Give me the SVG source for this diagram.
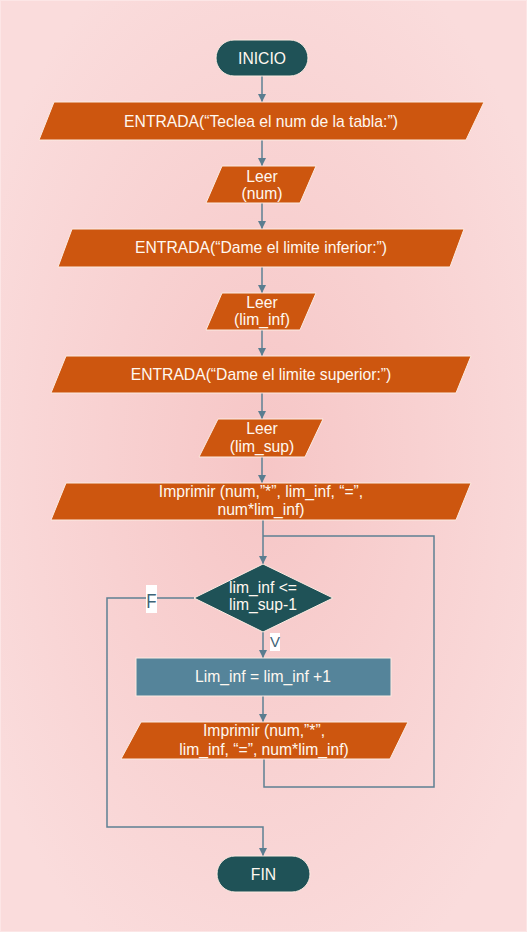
<svg xmlns="http://www.w3.org/2000/svg" width="527" height="932" viewBox="0 0 527 932">
<defs>
<radialGradient id="bg" cx="0.5" cy="0.5" r="0.6">
<stop offset="0" stop-color="#F6C6C6"/>
<stop offset="1" stop-color="#FADCDC"/>
</radialGradient>
<marker id="arr" viewBox="0 0 10 10" refX="10" refY="5" markerWidth="8" markerHeight="8" markerUnits="userSpaceOnUse" orient="auto">
<path d="M0,0 L10,5 L0,10 z" fill="#5A7D90"/>
</marker>
<style>
.io{fill:#CD560F;stroke:#FCEBE2;stroke-width:1}
.term{fill:#1F5257;stroke:#FCEBE2;stroke-width:1}
.proc{fill:#55849A;stroke:#FCEBE2;stroke-width:1}
.t{font-family:"Liberation Sans",Arial,sans-serif;font-size:15.7px;fill:#FFF8F0;text-anchor:middle}
.c{fill:none;stroke:#5E8093;stroke-width:1.5}
.lbl{font-family:"Liberation Sans",Arial,sans-serif;fill:#3F6477;text-anchor:middle}
</style>
</defs>
<rect x="0" y="0" width="527" height="932" fill="url(#bg)"/>
<rect x="0.5" y="0.5" width="526" height="931" fill="none" stroke="#FCE6E6" stroke-width="1"/>

<g id="connectors">
<path class="c" d="M262,76 V102" marker-end="url(#arr)"/>
<path class="c" d="M262,140 V166" marker-end="url(#arr)"/>
<path class="c" d="M262,203 V229" marker-end="url(#arr)"/>
<path class="c" d="M262,267 V293" marker-end="url(#arr)"/>
<path class="c" d="M262,330 V356" marker-end="url(#arr)"/>
<path class="c" d="M262,393 V419" marker-end="url(#arr)"/>
<path class="c" d="M262,457 V483" marker-end="url(#arr)"/>
<path class="c" d="M263,520 V564" marker-end="url(#arr)"/>
<path class="c" d="M264,759 V787 H434 V536 H263"/>
<path class="c" d="M263,632 V658" marker-end="url(#arr)"/>
<path class="c" d="M263,696 V722" marker-end="url(#arr)"/>
<path class="c" d="M194,598 H107 V827 H263 V856" marker-end="url(#arr)"/>
<rect x="146" y="585" width="11" height="28" fill="#FFFFFF"/>
<text class="lbl" x="151.5" y="608" font-size="21" transform="translate(151.5,0) scale(0.8,1) translate(-151.5,0)">F</text>
<rect x="270" y="633" width="10" height="18" fill="#FFFFFF"/>
<text class="lbl" x="275" y="647" font-size="15">V</text>
</g>

<g id="inicio">
<rect class="term" x="216" y="40" width="92" height="36" rx="18"/>
<text class="t" x="262" y="63.5">INICIO</text>
</g>
<g id="entrada1">
<polygon class="io" points="54,102 484,102 466,140 39,140"/>
<text class="t" x="261" y="126.5">ENTRADA(“Teclea el num de la tabla:”)</text>
</g>
<g id="leer_num">
<polygon class="io" points="222,166 316,166 300,203 206,203"/>
<text class="t" x="262" y="181.5">Leer</text>
<text class="t" x="262" y="199">(num)</text>
</g>
<g id="entrada2">
<polygon class="io" points="72,229 464,229 450,267 58,267"/>
<text class="t" x="261" y="253">ENTRADA(“Dame el limite inferior:”)</text>
</g>
<g id="leer_lim_inf">
<polygon class="io" points="222,293 316,293 300,330 206,330"/>
<text class="t" x="262" y="307.5">Leer</text>
<text class="t" x="262" y="325">(lim_inf)</text>
</g>
<g id="entrada3">
<polygon class="io" points="66,356 471,356 456,393 51,393"/>
<text class="t" x="261" y="380">ENTRADA(“Dame el limite superior:”)</text>
</g>
<g id="leer_lim_sup">
<polygon class="io" points="218,419 323,419 305,457 199,457"/>
<text class="t" x="262" y="433.5">Leer</text>
<text class="t" x="262" y="451.5">(lim_sup)</text>
</g>
<g id="imprimir1">
<polygon class="io" points="66,483 471,483 456,520 51,520"/>
<text class="t" x="261" y="497">Imprimir (num,”*”, lim_inf, “=”,</text>
<text class="t" x="261" y="515">num*lim_inf)</text>
</g>
<g id="decision">
<polygon class="term" points="263,564 333,598 263,632 194,598"/>
<text class="t" x="263" y="593">lim_inf &lt;=</text>
<text class="t" x="263" y="610">lim_sup-1</text>
</g>
<g id="incremento">
<rect class="proc" x="136" y="658" width="255" height="38"/>
<text class="t" x="263" y="682">Lim_inf = lim_inf +1</text>
</g>
<g id="imprimir2">
<polygon class="io" points="141,722 408,722 390,759 121,759"/>
<text class="t" x="264" y="736">Imprimir (num,”*”,</text>
<text class="t" x="264" y="754.5">lim_inf, “=”, num*lim_inf)</text>
</g>
<g id="fin">
<rect class="term" x="217" y="856" width="93" height="36" rx="18"/>
<text class="t" x="263.5" y="879.5">FIN</text>
</g>
</svg>
